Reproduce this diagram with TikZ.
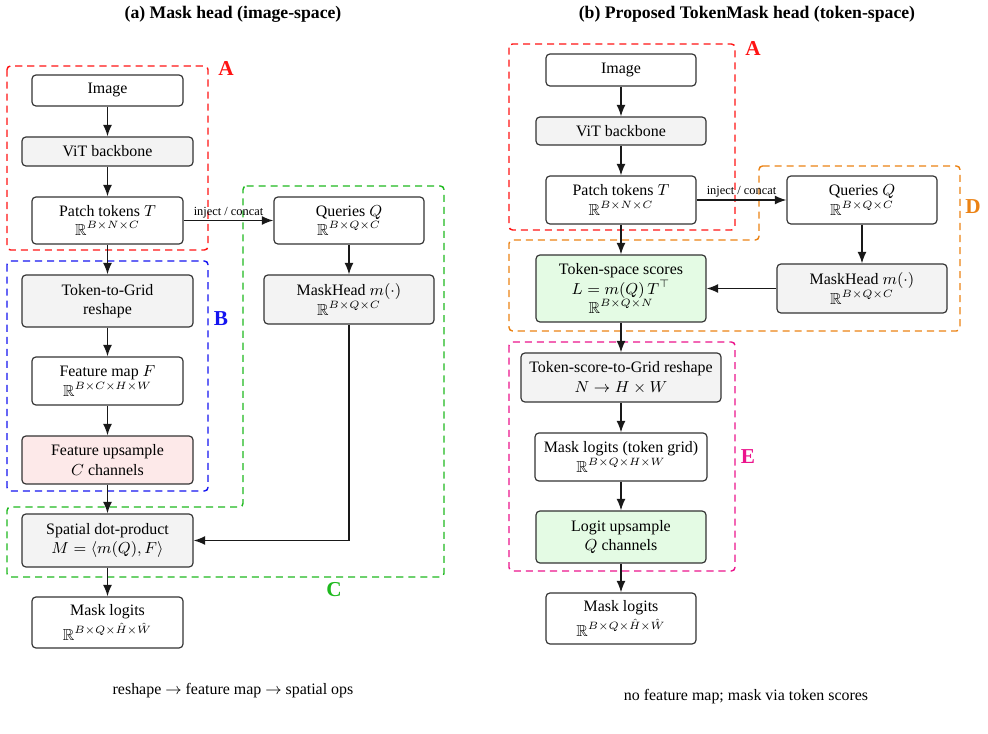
\documentclass[tikz,border=0pt]{standalone}
\usepackage{amssymb}
\usepackage{fontspec}
\setmainfont{Liberation Serif}
\usetikzlibrary{arrows.meta}
\definecolor{cred}{RGB}{255,20,20}
\definecolor{cblue}{RGB}{20,20,240}
\definecolor{cgreen}{RGB}{30,185,30}
\definecolor{corange}{RGB}{235,130,20}
\definecolor{cpink}{RGB}{235,20,140}
\definecolor{cgrayfill}{RGB}{243,243,243}
\definecolor{cpinkfill}{RGB}{253,233,233}
\definecolor{cgreenfill}{RGB}{228,251,228}
\newcommand{\pxl}{0.565pt}
\begin{document}
\begin{tikzpicture}[x=0.565pt,y=-0.565pt,
  box/.style={draw=black!80, line width=0.65pt, rounded corners=2.2pt, align=center,
    font=\small, inner sep=1pt, fill=white},
  gbox/.style={box, fill=cgrayfill},
  pbox/.style={box, fill=cpinkfill},
  grbox/.style={box, fill=cgreenfill},
  bw/.style={minimum width=#1*\pxl},
  bh/.style={minimum height=#1*\pxl},
  arr/.style={-{Latex[length=6.5pt,width=5pt]}, line width=0.8pt, draw=black!90},
  region/.style={line width=0.8pt, dash pattern=on 4pt off 2.8pt, rounded corners=2pt},
  rlabel/.style={font=\large\bfseries},
  ttl/.style={font=\bfseries},
  captext/.style={font=\small},
  elabel/.style={font=\scriptsize, inner sep=1pt}
]
\useasboundingbox (0,0) rectangle (988,734);

% ---------------- (a) ----------------
\node[ttl] (ta) at (233,14) {(a) Mask head (image-space)};

% regions
\draw[region, draw=cred] (7,66) rectangle (208,250);
\node[rlabel, text=cred] (la) at (226,68) {A};
\draw[region, draw=cblue] (7,261) rectangle (208,491);
\node[rlabel, text=cblue] (lb) at (221,319) {B};
\draw[region, draw=cgreen] (243,186) -- (444,186) -- (444,577) -- (7,577) -- (7,507) -- (243,507) -- cycle;
\node[rlabel, text=cgreen] (lc) at (334,590) {C};

% nodes
\node[box, bw=151, bh=31] (img) at (107.5,90.5) {Image};
\node[gbox, bw=171, bh=29] (vit) at (107.5,151.5) {ViT backbone};
\node[box, bw=151, bh=47] (pt) at (107.5,220.5) {Patch tokens $T$\\ $\mathbb{R}^{B\times N\times C}$};
\node[box, bw=150, bh=47] (q) at (349,220.5) {Queries $Q$\\ $\mathbb{R}^{B\times Q\times C}$};
\node[gbox, bw=171, bh=52] (tg) at (107.5,301) {Token-to-Grid\\ reshape};
\node[box, bw=151, bh=48] (fm) at (107.5,381) {Feature map $F$\\ $\mathbb{R}^{B\times C\times H\times W}$};
\node[pbox, bw=171, bh=48] (fu) at (107.5,460) {Feature upsample\\ $C$ channels};
\node[gbox, bw=170, bh=49] (mh) at (349,299.5) {MaskHead $m(\cdot)$\\ $\mathbb{R}^{B\times Q\times C}$};
\node[gbox, bw=171, bh=53] (sd) at (107.5,540.5) {Spatial dot-product\\ $M=\langle m(Q),F\rangle$};
\node[box, bw=151, bh=51] (ml) at (107.5,622.5) {Mask logits\\[1.5pt] $\mathbb{R}^{B\times Q\times \hat{H}\times \hat{W}}$};

% connectors
\draw[arr] (img) -- (vit);
\draw[arr] (vit) -- (pt);
\draw[arr] (pt) -- node[elabel, above, pos=0.5] {inject / concat} (q);
\draw[arr] (pt) -- (tg);
\draw[arr] (tg) -- (fm);
\draw[arr] (fm) -- (fu);
\draw[arr] (fu) -- (sd);
\draw[arr] (q) -- (mh);
\draw[arr] (mh.south) |- (sd.east);
\draw[arr] (sd) -- (ml);

\node[captext] (ca) at (233,691) {reshape $\rightarrow$ feature map $\rightarrow$ spatial ops};

% ---------------- (b) ----------------
\node[ttl] (tb) at (747,14) {(b) Proposed TokenMask head (token-space)};

\draw[region, draw=cred] (509,44) rectangle (735,230);
\node[rlabel, text=cred] (la2) at (753,48) {A};
\draw[region, draw=corange] (759,166) -- (960,166) -- (960,331) -- (509,331) -- (509,240) -- (759,240) -- cycle;
\node[rlabel, text=corange] (ld) at (973,207) {D};
\draw[region, draw=cpink] (509,342) rectangle (735,571);
\node[rlabel, text=cpink] (le) at (748,457) {E};

\node[box, bw=150, bh=32] (img2) at (621,70) {Image};
\node[gbox, bw=170, bh=28] (vit2) at (621,131) {ViT backbone};
\node[box, bw=150, bh=48] (pt2) at (621,200) {Patch tokens $T$\\ $\mathbb{R}^{B\times N\times C}$};
\node[box, bw=150, bh=48] (q2) at (862,200) {Queries $Q$\\ $\mathbb{R}^{B\times Q\times C}$};
\node[grbox, bw=170, bh=67] (ts) at (621,288.5) {Token-space scores\\ $L=m(Q)\,T^{\top}$\\ $\mathbb{R}^{B\times Q\times N}$};
\node[gbox, bw=170, bh=49] (mh2) at (862,288.5) {MaskHead $m(\cdot)$\\ $\mathbb{R}^{B\times Q\times C}$};
\node[gbox, bw=200, bh=49] (tsg) at (621,377.5) {Token-score-to-Grid reshape\\ $N\rightarrow H\times W$};
\node[box, bw=172, bh=48] (mlt) at (621,457) {Mask logits (token grid)\\ $\mathbb{R}^{B\times Q\times H\times W}$};
\node[grbox, bw=170, bh=52] (lu) at (621,537) {Logit upsample\\ $Q$ channels};
\node[box, bw=150, bh=51] (ml2) at (621,618.5) {Mask logits\\[1.5pt] $\mathbb{R}^{B\times Q\times \hat{H}\times \hat{W}}$};

\draw[arr] (img2) -- (vit2);
\draw[arr] (vit2) -- (pt2);
\draw[arr] (pt2) -- node[elabel, above, pos=0.5] {inject / concat} (q2);
\draw[arr] (pt2) -- (ts);
\draw[arr] (q2) -- (mh2);
\draw[arr] (mh2) -- (ts);
\draw[arr] (ts) -- (tsg);
\draw[arr] (tsg) -- (mlt);
\draw[arr] (mlt) -- (lu);
\draw[arr] (lu) -- (ml2);

\node[captext] (cb) at (746,697) {no feature map; mask via token scores};
\end{tikzpicture}
\end{document}
